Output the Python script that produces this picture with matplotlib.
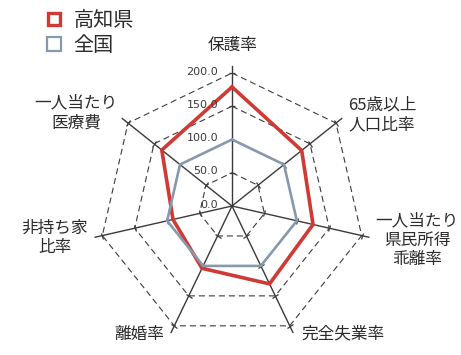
import numpy as np
import matplotlib
matplotlib.use("Agg")
import matplotlib.pyplot as plt
from matplotlib.lines import Line2D
from matplotlib.markers import MarkerStyle
from matplotlib.transforms import Affine2D

plt.rcParams['font.family'] = ['Noto Sans CJK JP', 'DejaVu Sans']

# ---- data ----
categories = ['保護率', '65歳以上\n人口比率', '一人当たり\n県民所得\n乖離率', '完全失業率',
              '離婚率', '非持ち家\n比率', '一人当たり\n医療費']
kochi = [179, 134, 125, 130, 104, 91, 135]
national = [100, 100, 100, 100, 100, 100, 100]
series_names = ['高知県', '全国']
radial_ticks = [0, 50, 100, 150, 200]
radial_labels = ['0.0', '50.0', '100.0', '150.0', '200.0']

RED = '#d03a35'
GRAY = '#8799ad'
INK = '#2b2b2b'
W, H = 461, 355

fig = plt.figure(figsize=(W / 100, H / 100), dpi=100)
fig.patch.set_facecolor('white')

# polar axes: centre at (232,206) px, radius 133 px for value 200
cx, cy, R = 232, 206, 133
ax = fig.add_axes([(cx - R) / W, (H - cy - R) / H, 2 * R / W, 2 * R / H], projection='polar')
ax.set_theta_zero_location('N')
ax.set_theta_direction(-1)
ax.set_ylim(0, 200)
ax.axis('off')

n = len(categories)
theta = np.arange(n) * 2 * np.pi / n
theta_c = np.append(theta, theta[0])

# dashed grid polygons
for lv in radial_ticks[1:]:
    ax.plot(theta_c, [lv] * (n + 1), color='#3c3c3c', lw=0.8,
            ls=(0, (5.5, 3.5)), zorder=1, clip_on=False)

# axis spokes and tick marks
for i, t in enumerate(theta):
    ax.plot([t, t], [0, 211], color='#3a3a3a', lw=1.0, zorder=2, clip_on=False)
    phi = 90 - np.degrees(t)
    mk = MarkerStyle('|', transform=Affine2D().rotate_deg(phi))
    ax.plot([t] * 4, radial_ticks[1:], ls='none', marker=mk, markersize=5,
            mec='#3a3a3a', mew=0.9, zorder=2, clip_on=False)

# data
ax.plot(theta_c, kochi + kochi[:1], color=RED, lw=2.6, zorder=3, clip_on=False,
        solid_joinstyle='miter')
ax.plot(theta_c, national + national[:1], color=GRAY, lw=1.9, zorder=4, clip_on=False,
        solid_joinstyle='miter')

# radial tick labels
for v, lab in zip(radial_ticks, radial_labels):
    ax.annotate(lab, xy=(0, v), xytext=(-10, 1), textcoords='offset points',
                ha='right', va='center', fontsize=8, color='#3a3a3a',
                family='DejaVu Sans', annotation_clip=False, zorder=5)

# category labels (pixel centres of the label blocks)
label_pos = [(233, 45), (382, 115), (417, 240), (343, 334), (139, 334), (55, 238), (76, 113)]
for lab, (x, y) in zip(categories, label_pos):
    fig.text(x / W, 1 - y / H, lab, ha='center', va='center', fontsize=12,
             color=INK, linespacing=1.2)

# legend
handles = [Line2D([], [], ls='none', marker='s', markersize=9, mfc='white', mec=RED, mew=2.4),
           Line2D([], [], ls='none', marker='s', markersize=9.5, mfc='white', mec=GRAY, mew=1.6)]
fig.legend(handles, series_names, loc='upper left', bbox_to_anchor=(30 / W, 1 + 4 / H),
           frameon=False, fontsize=14.5, handlelength=1.0, handletextpad=0.45,
           labelspacing=0.2, borderpad=0.2, labelcolor=INK)

fig.savefig('out.png', dpi=100, facecolor='white')
